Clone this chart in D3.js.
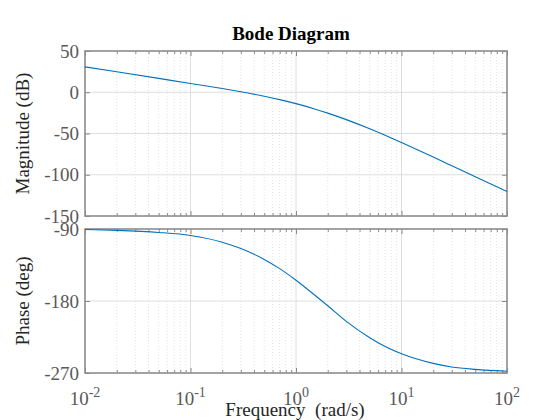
<!DOCTYPE html>
<html>
<head>
<meta charset="utf-8">
<script src="https://cdn.jsdelivr.net/npm/d3@7"></script>
<style>
  html, body { margin: 0; padding: 0; background: #ffffff; }
  svg { display: block; }
</style>
</head>
<body>
<svg id="chart" width="560" height="420"></svg>
<script>
// ---- data ----
const frequency = [0.01, 0.02, 0.05, 0.1, 0.2, 0.3, 0.5, 0.7, 1, 1.5, 2, 3, 5, 7, 10, 20, 30, 50, 100];
const magnitudeDb = [30.8, 24.8, 16.8, 10.7, 4.5, 0.6, -4.8, -8.9, -13.8, -20.2, -25.3, -33.2, -44.3, -52.2, -61.0, -78.6, -89.1, -102.4, -120.4];
const phaseDeg = [-90.7, -91.7, -94.3, -98.1, -106.5, -114.5, -128.0, -139.5, -154.0, -172.5, -186.0, -205.5, -226.0, -237.0, -246.0, -258.0, -262.5, -265.5, -267.8];
const magTicks = [50, 0, -50, -100, -150];
const phaseTicks = [-90, -180, -270];
const freqTicks = [0.01, 0.1, 1, 10, 100];
const freqTickExponents = ["-2", "-1", "0", "1", "2"];
const titleText = "Bode Diagram";
const magLabel = "Magnitude (dB)";
const phaseLabel = "Phase (deg)";
const freqLabel = "Frequency  (rad/s)";

// ---- layout ----
const svg = d3.select("#chart");
const left = 85, right = 507;
const magTop = 51, magBottom = 216;
const phTop = 229, phBottom = 373;
const serif = "'Liberation Serif', 'Times New Roman', serif";
const axisColor = "#8c8c8c";
const tickText = "#595959";
const lineColor = "#0072BD";

svg.append("rect").attr("width", 560).attr("height", 420).attr("fill", "#ffffff");

const x = d3.scaleLog().domain([0.01, 100]).range([left, right]);
const yMag = d3.scaleLinear().domain([-150, 50]).range([magBottom, magTop]);
const yPh = d3.scaleLinear().domain([-270, -90]).range([phBottom, phTop]);

// minor frequencies
const minorFreqs = [];
for (let e = -2; e < 2; e++) {
  for (let m = 2; m <= 9; m++) minorFreqs.push(m * Math.pow(10, e));
}

function panel(y, top, bottom, ticks) {
  const g = svg.append("g");
  g.selectAll(".mg").data(minorFreqs).enter().append("line")
    .attr("x1", d => x(d)).attr("x2", d => x(d))
    .attr("y1", top).attr("y2", bottom)
    .attr("stroke", "#dcdcdc").attr("stroke-width", 0.8)
    .attr("stroke-dasharray", "1,2");
  g.selectAll(".Mg").data(freqTicks.slice(1, -1)).enter().append("line")
    .attr("x1", d => x(d)).attr("x2", d => x(d))
    .attr("y1", top).attr("y2", bottom)
    .attr("stroke", "#dedede").attr("stroke-width", 1);
  g.selectAll(".Yg").data(ticks.filter(t => y(t) > top + 1 && y(t) < bottom - 1)).enter().append("line")
    .attr("x1", left).attr("x2", right)
    .attr("y1", d => y(d)).attr("y2", d => y(d))
    .attr("stroke", "#dedede").attr("stroke-width", 1);

  const bottomAxis = d3.axisBottom(x).tickValues(freqTicks).tickSize(-5).tickFormat("");
  const bottomMinor = d3.axisBottom(x).tickValues(minorFreqs).tickSize(-3).tickFormat("");
  const topAxis = d3.axisTop(x).tickValues(freqTicks).tickSize(-5).tickFormat("");
  const topMinor = d3.axisTop(x).tickValues(minorFreqs).tickSize(-3).tickFormat("");
  const leftAxis = d3.axisLeft(y).tickValues(ticks).tickSize(-5).tickFormat("");
  const rightAxis = d3.axisRight(y).tickValues(ticks).tickSize(-5).tickFormat("");
  [
    [bottomAxis, `translate(0,${bottom})`],
    [bottomMinor, `translate(0,${bottom})`],
    [topAxis, `translate(0,${top})`],
    [topMinor, `translate(0,${top})`],
    [leftAxis, `translate(${left},0)`],
    [rightAxis, `translate(${right},0)`]
  ].forEach(([ax, tr]) => {
    const a = g.append("g").attr("transform", tr).call(ax);
    a.select(".domain").remove();
    a.selectAll("line").attr("stroke", "#6e6e6e").attr("stroke-width", 0.8);
  });
  g.append("rect").attr("x", left).attr("y", top)
    .attr("width", right - left).attr("height", bottom - top)
    .attr("fill", "none").attr("stroke", axisColor).attr("stroke-width", 1.6);

  g.selectAll(".yl").data(ticks).enter().append("text")
    .attr("x", left - 6).attr("y", d => y(d))
    .attr("dy", "0.35em")
    .attr("text-anchor", "end")
    .attr("font-family", serif).attr("font-size", 19)
    .attr("fill", tickText)
    .text(d => d);
  return g;
}

panel(yMag, magTop, magBottom, magTicks);
panel(yPh, phTop, phBottom, phaseTicks);

const magData = frequency.map((f, i) => ({ f, v: magnitudeDb[i] }));
const phData = frequency.map((f, i) => ({ f, v: phaseDeg[i] }));

svg.append("path").datum(magData)
  .attr("fill", "none").attr("stroke", lineColor).attr("stroke-width", 1.1)
  .attr("d", d3.line().x(d => x(d.f)).y(d => yMag(d.v)).curve(d3.curveMonotoneX));
svg.append("path").datum(phData)
  .attr("fill", "none").attr("stroke", lineColor).attr("stroke-width", 1.1)
  .attr("d", d3.line().x(d => x(d.f)).y(d => yPh(d.v)).curve(d3.curveMonotoneX));

freqTicks.forEach((f, i) => {
  const t = svg.append("text")
    .attr("x", x(f)).attr("y", 405)
    .attr("text-anchor", "middle")
    .attr("font-family", serif).attr("font-size", 19)
    .attr("fill", tickText);
  t.append("tspan").text("10");
  t.append("tspan").attr("dy", -8).attr("font-size", 14).text(freqTickExponents[i]);
});

svg.append("text")
  .attr("x", 291).attr("y", 40)
  .attr("text-anchor", "middle")
  .attr("font-family", serif).attr("font-size", 19).attr("font-weight", "bold")
  .attr("fill", "#000")
  .text(titleText);

svg.append("text")
  .attr("transform", `translate(29,${(magTop + magBottom) / 2}) rotate(-90)`)
  .attr("text-anchor", "middle")
  .attr("font-family", serif).attr("font-size", 19)
  .attr("fill", "#262626")
  .text(magLabel);
svg.append("text")
  .attr("transform", `translate(29,${(phTop + phBottom) / 2}) rotate(-90)`)
  .attr("text-anchor", "middle")
  .attr("font-family", serif).attr("font-size", 19)
  .attr("fill", "#262626")
  .text(phaseLabel);
svg.append("text")
  .attr("x", 295).attr("y", 416)
  .attr("text-anchor", "middle")
  .attr("font-family", serif).attr("font-size", 19)
  .attr("fill", "#262626")
  .attr("xml:space", "preserve")
  .style("white-space", "pre")
  .text(freqLabel);
</script>
</body>
</html>
